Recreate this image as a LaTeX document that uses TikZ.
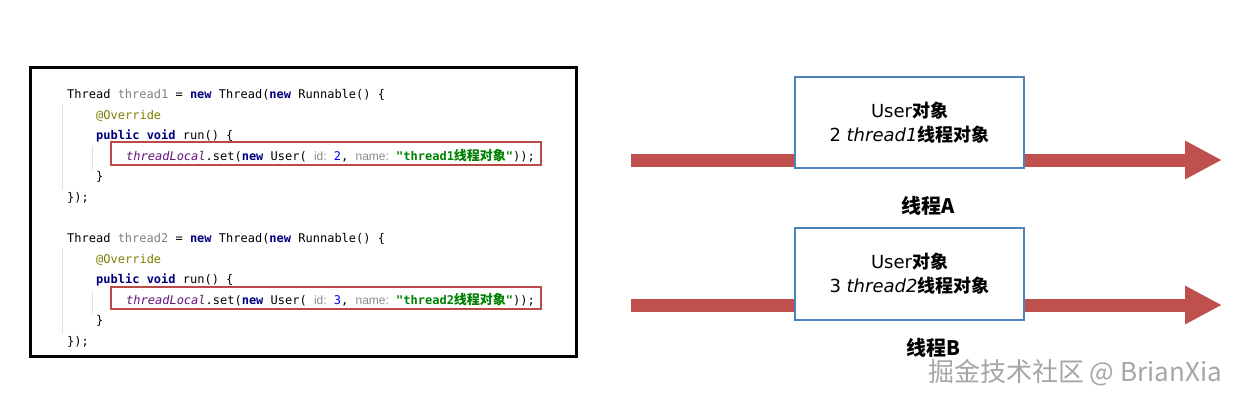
\documentclass[tikz,border=0pt]{standalone}
\usepackage{fontspec}
\setmonofont{DejaVu Sans Mono}
\setsansfont{Liberation Sans}
\newfontfamily\cjk{Noto Sans CJK SC}
\newfontfamily\latbox{DejaVu Sans}
\usetikzlibrary{arrows.meta}
\definecolor{kwc}{HTML}{000080}
\definecolor{varc}{HTML}{808080}
\definecolor{annc}{HTML}{808000}
\definecolor{fldc}{HTML}{660E7A}
\definecolor{numc}{HTML}{0000FF}
\definecolor{strc}{HTML}{008000}
\definecolor{hintc}{HTML}{8C8C8C}
\definecolor{redbox}{HTML}{B94A48}
\definecolor{arrowc}{HTML}{C0504D}
\definecolor{boxc}{HTML}{4F81BD}
\newcommand\kwd[1]{{\color{kwc}\bfseries #1}}
\newcommand\hnt[1]{{\sffamily\fontsize{12}{14}\selectfont\color{hintc}#1}}
\newcommand\strg[1]{{\color{strc}\bfseries #1}}
\begin{document}
\begin{tikzpicture}[x=1pt,y=1pt,
  code/.style={anchor=base west, inner sep=0pt, font=\ttfamily\fontsize{12}{14}\selectfont},
  hl/.style={draw=redbox, line width=2.5pt, inner sep=0pt},
  objbox/.style={draw=boxc, line width=2.5pt, fill=white, minimum width=229, minimum height=91, align=center, font=\cjk\fontsize{18}{24}\selectfont},
  thr/.style={line width=13pt, draw=arrowc, -{Triangle[length=37pt,width=36pt]}},
  lbl/.style={font=\cjk\bfseries\fontsize{20}{22}\selectfont},
  guide/.style={draw=black!12, line width=0.8pt}]
\useasboundingbox[fill=white] (0,0) rectangle (1246,-400);
% code frame
\node (frame) [draw, line width=3pt, minimum width=546, minimum height=289, inner sep=0pt] at (303,-211.5) {};
% guides
\draw[guide] (62,-104) -- (62,-190);
\draw[guide] (62,-248) -- (62,-334);
\draw[guide] (92,-146) -- (92,-170);
\draw[guide] (92,-291) -- (92,-314);
% block 1
\node[code] (l1) at (67,-98) {Thread {\color{varc}thread1} = \kwd{new} Thread(\kwd{new} Runnable() \{};
\node[code] (l2) at (96,-119) {{\color{annc}@Override}};
\node[code] (l3) at (96,-139) {\kwd{public} \kwd{void} run() \{};
\node[code] (l4) at (126,-160) {{\color{fldc}\itshape threadLocal}.set(\kwd{new} User( \hnt{id:} {\color{numc}2}, \hnt{name:} \strg{"thread1{\cjk\bfseries\fontsize{13}{14}\selectfont 线程对象}"}));};
\node[code] (l5) at (96,-180) {\}};
\node[code] (l6) at (67,-201) {\});};
\node[hl, minimum width=430, minimum height=23] (h1) at (326,-153.5) {};
% block 2
\node[code] (m1) at (67,-242) {Thread {\color{varc}thread2} = \kwd{new} Thread(\kwd{new} Runnable() \{};
\node[code] (m2) at (96,-263) {{\color{annc}@Override}};
\node[code] (m3) at (96,-283) {\kwd{public} \kwd{void} run() \{};
\node[code] (m4) at (126,-304) {{\color{fldc}\itshape threadLocal}.set(\kwd{new} User( \hnt{id:} {\color{numc}3}, \hnt{name:} \strg{"thread2{\cjk\bfseries\fontsize{13}{14}\selectfont 线程对象}"}));};
\node[code] (m5) at (96,-324) {\}};
\node[code] (m6) at (67,-345) {\});};
\node[hl, minimum width=430, minimum height=22] (h2) at (326,-298) {};
% thread A
\coordinate (as) at (631,-160);
\coordinate (ae) at (1222,-160);
\draw[thr] (as) -- (ae);
\node[objbox] (b1) at (909.5,-122.5) {{\latbox User}{\bfseries 对象}\\{\latbox 2 \itshape thread1}{\bfseries 线程对象}};
\node[lbl] (la) at (928,-206) {线程A};
% thread B
\coordinate (bs) at (631,-305);
\coordinate (be) at (1222,-305);
\draw[thr] (bs) -- (be);
\node[objbox, minimum height=92] (b2) at (909.5,-274) {{\latbox User}{\bfseries 对象}\\{\latbox 3 \itshape thread2}{\bfseries 线程对象}};
\node[lbl] (lb) at (933,-348) {线程B};
% watermark
\node[font=\cjk\fontsize{26}{28}\selectfont, text=black!35] (wm) at (1075,-373) {掘金技术社区 @ BrianXia};
\end{tikzpicture}
\end{document}
